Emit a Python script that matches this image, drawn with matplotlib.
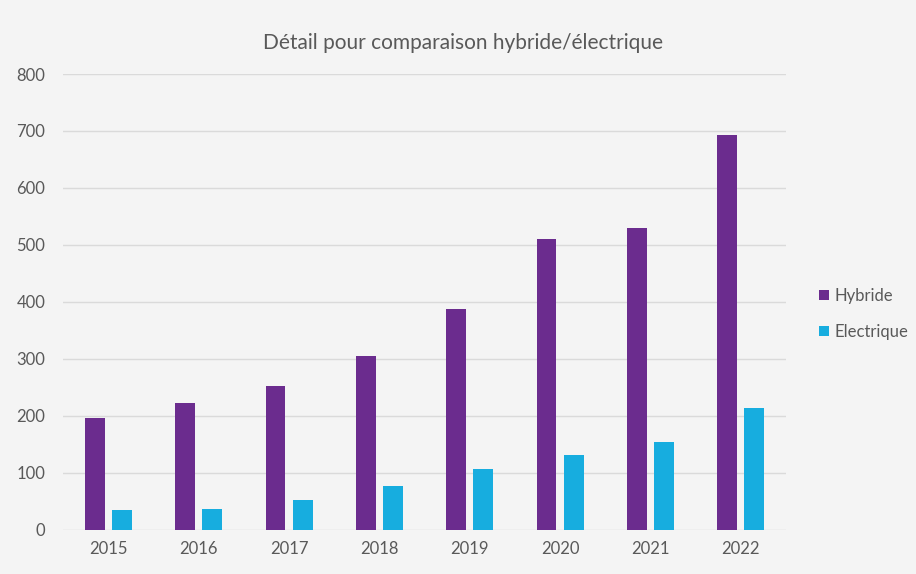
import matplotlib
matplotlib.use("Agg")
import matplotlib.pyplot as plt
import numpy as np

years = ["2015", "2016", "2017", "2018", "2019", "2020", "2021", "2022"]
hybride = [195, 223, 252, 305, 387, 510, 530, 693]
electrique = [34, 36, 51, 77, 106, 131, 153, 213]
yticks = [0, 100, 200, 300, 400, 500, 600, 700, 800]

plt.rcParams['font.family'] = ['Lato', 'DejaVu Sans']
bg = "#f4f4f4"
txt = "#595959"

fig = plt.figure(figsize=(9.16, 5.74), dpi=100, facecolor=bg)
ax = fig.add_axes([0.069, 0.0775, 0.789, 0.7935], facecolor=bg)

x = np.arange(len(years))
w = 0.22
ax.bar(x - 0.15, hybride, width=w, color="#6b2c8e", label="Hybride", zorder=3)
ax.bar(x + 0.15, electrique, width=w, color="#17addf", label="Electrique", zorder=3)

ax.set_xlim(-0.5, len(years) - 0.5)
ax.set_ylim(0, 800)
ax.set_yticks(yticks)
ax.set_xticks(x)
ax.set_xticklabels(years)
ax.yaxis.grid(True, color="#dadada", linewidth=1, zorder=0)
ax.set_axisbelow(True)
for s in ax.spines.values():
    s.set_visible(False)
ax.tick_params(axis='both', length=0, colors=txt, labelsize=12)
ax.tick_params(axis='y', pad=13)
ax.tick_params(axis='x', pad=8)

fig.text(0.506, 0.925, "Détail pour comparaison hybride/électrique", ha="center", va="center",
         fontsize=15, color=txt)

leg = fig.legend(loc="center left", bbox_to_anchor=(0.878, 0.453), frameon=False,
                 fontsize=12, handlelength=0.6, handleheight=0.6, handletextpad=0.3,
                 labelspacing=1.2, labelcolor=txt)

fig.savefig("out.png", dpi=100, facecolor=bg)
